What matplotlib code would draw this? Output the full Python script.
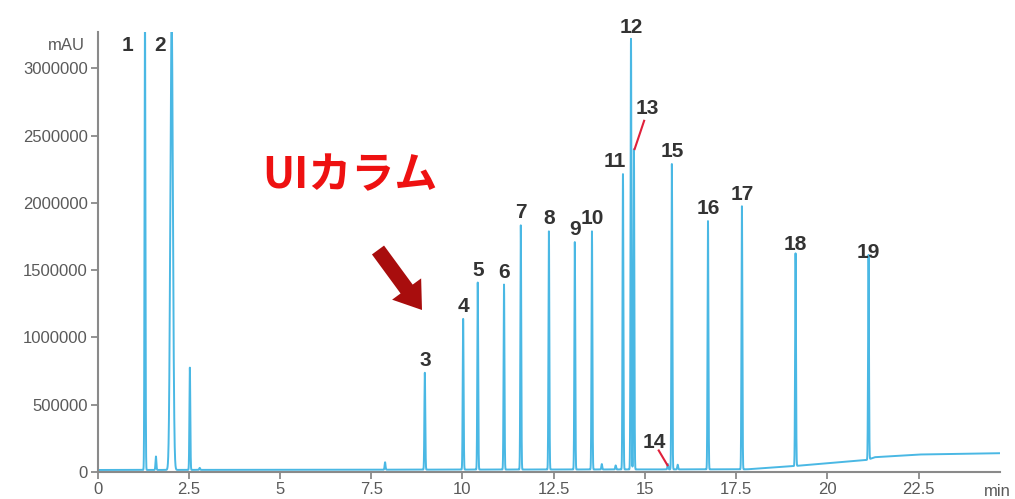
import numpy as np
import matplotlib
matplotlib.use("Agg")
import matplotlib.pyplot as plt
from matplotlib.patches import FancyArrow
from matplotlib.transforms import IdentityTransform

# ---- data ----
peak_labels = ["1", "2", "3", "4", "5", "6", "7", "8", "9", "10",
               "11", "12", "13", "14", "15", "16", "17", "18", "19"]
peak_times = [1.30, 2.03, 8.97, 10.02, 10.42, 11.14, 11.60, 12.37, 13.08, 13.55,
              14.40, 14.62, 14.70, 15.63, 15.74, 16.73, 17.66, 19.13, 21.13]
peak_heights = [3400000, 3400000, 720000, 1120000, 1390000, 1375000, 1815000, 1770000,
                1690000, 1770000, 2195000, 3200000, 2380000, 40000, 2270000, 1845000,
                1955000, 1580000, 1520000]
peak_sigmas = [0.012, 0.035, 0.012, 0.012, 0.012, 0.012, 0.012, 0.012, 0.012, 0.012,
               0.012, 0.012, 0.012, 0.012, 0.012, 0.012, 0.012, 0.012, 0.012]

# unlabeled minor peaks
minor_times = [1.60, 2.53, 2.80, 7.88, 13.82, 14.20, 15.90]
minor_heights = [100000, 760000, 15000, 55000, 40000, 30000, 35000]

# baseline drift
base_t = [0.0, 17.8, 19.13, 21.1, 21.3, 22.5, 24.8]
base_v = [15000, 20000, 45000, 90000, 110000, 130000, 140000]

x_ticks = [0, 2.5, 5, 7.5, 10, 12.5, 15, 17.5, 20, 22.5]
x_tick_labels = ["0", "2.5", "5", "7.5", "10", "12.5", "15", "17.5", "20", "22.5"]
y_ticks = [0, 500000, 1000000, 1500000, 2000000, 2500000, 3000000]
y_tick_labels = ["0", "500000", "1000000", "1500000", "2000000", "2500000", "3000000"]

plt.rcParams["font.family"] = ["Liberation Sans", "DejaVu Sans"]

# ---- build trace ----
t = np.linspace(0, 24.8, 40000)
y = np.interp(t, base_t, base_v)
for pt, ph, ps in zip(peak_times, peak_heights, peak_sigmas):
    y = y + ph * np.exp(-0.5 * ((t - pt) / ps) ** 2)
for pt, ph in zip(minor_times, minor_heights):
    y = y + ph * np.exp(-0.5 * ((t - pt) / 0.012) ** 2)

fig = plt.figure(figsize=(10.15, 4.99), dpi=100)
ax = fig.add_axes([0.0961, 0.0541, 0.889, 0.8818])
ax.plot(t, y, color="#4ab8e4", lw=1.4, clip_on=True)

ax.set_xlim(0, 24.73)
ax.set_ylim(0, 3270000)

for s in ["top", "right"]:
    ax.spines[s].set_visible(False)
for s in ["left", "bottom"]:
    ax.spines[s].set_color("#8a8a8a")
    ax.spines[s].set_linewidth(1.5)

ax.set_xticks(x_ticks)
ax.set_xticklabels(x_tick_labels)
ax.set_yticks(y_ticks)
ax.set_yticklabels(y_tick_labels)
ax.tick_params(axis="both", colors="#8a8a8a", labelcolor="#5a5a5a", labelsize=12,
               length=5, width=1.3, direction="out")
ax.tick_params(axis="x", pad=2)
ax.tick_params(axis="y", pad=2)

ax.text(-0.014, 0.97, "mAU", transform=ax.transAxes, ha="right", va="center",
        fontsize=12, color="#5a5a5a")
ax.text(0.997, -0.027, "min", transform=ax.transAxes, ha="center", va="top",
        fontsize=12, color="#5a5a5a", clip_on=False)

# peak labels
label_dx = {"1": -0.48, "2": -0.32, "11": -0.22, "13": 0.37, "14": -0.38}
label_y = {"1": 3100000, "2": 3100000, "12": 3230000, "13": 2630000, "14": 150000}
for lab, pt, ph in zip(peak_labels, peak_times, peak_heights):
    lx = pt + label_dx.get(lab, 0)
    ly = label_y.get(lab, ph + 40000)
    ax.text(lx, ly, lab, ha="center", va="bottom", fontsize=15, fontweight="bold",
            color="#333333", clip_on=False)

# red leader lines for 13 and 14
ax.plot([14.72, 14.98], [2400000, 2610000], color="#e0203a", lw=1.5)
ax.plot([15.38, 15.62], [160000, 50000], color="#e0203a", lw=1.5)

# annotation
ax.text(0.182, 0.675, "UIカラム", transform=ax.transAxes, fontsize=31, fontweight="bold",
        color="#ee1111", family=["Noto Sans CJK JP", "DejaVu Sans"], ha="left", va="center")
arrow = FancyArrow(378, 499 - 250, 44, -60, width=15, head_width=36,
                   head_length=26, length_includes_head=True,
                   transform=IdentityTransform(), color="#a80d0d", lw=0)
fig.patches.append(arrow)

fig.savefig("out.png", dpi=100)
